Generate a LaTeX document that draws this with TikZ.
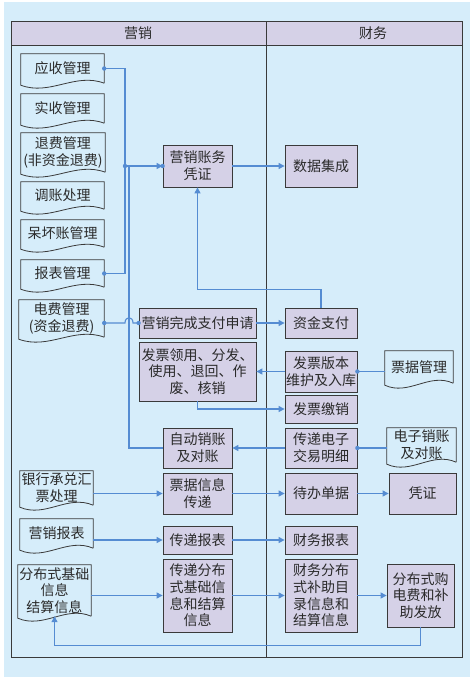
\documentclass[tikz,border=0pt]{standalone}
\usepackage{fontspec}
\usepackage{tikz}
\usetikzlibrary{calc}
\usetikzlibrary{positioning}
\usetikzlibrary{arrows.meta}

\newfontfamily\cjkfont{Noto Sans CJK SC}
\newcommand{\cnfont}{\cjkfont\fontsize{14}{16.7}\selectfont}

\definecolor{pagebg}{HTML}{D6EDFA}
\definecolor{boxlav}{HTML}{D5D1E7}
\definecolor{edgegray}{HTML}{3A3A3A}
\definecolor{linkblue}{HTML}{558CD2}
\definecolor{txtgray}{HTML}{2A2A2A}

\newcommand{\docwave}[1]{%
  \draw[edgegray,line width=0.8pt] (#1.south east) -- (#1.north east) -- (#1.north west)
    -- ($(#1.south west)+(0,2)$)
    .. controls ($(#1.south west)!0.35!(#1.south east)+(0,13)$)
    and ($(#1.south west)!0.65!(#1.south east)+(0,-11)$) .. (#1.south east);}
\newcommand{\linkdot}[1]{\fill[linkblue] (#1) circle (2.2pt);}

\begin{document}
\begin{tikzpicture}[x=1pt,y=-1pt,
  proc/.style={draw=edgegray,fill=boxlav,line width=0.8pt,inner sep=0pt,
    align=center,text=txtgray,font=\cnfont},
  midbox/.style={proc,minimum width=69pt},
  finbox/.style={proc,minimum width=72pt},
  docbox/.style={inner sep=0pt,align=center,text=txtgray,font=\cnfont},
  flow/.style={draw=linkblue,line width=1.1pt},
  flowto/.style={flow,-{Triangle[length=6pt,width=6pt]}}]

      \useasboundingbox (0,0) rectangle (471,680);
      \fill[pagebg] (4,2) rectangle (470,677);

      \fill[boxlav] (11,21) rectangle (462,45);
      \draw[edgegray,line width=0.9pt] (11,21) rectangle (462,657);
      \draw[edgegray,line width=0.9pt] (11,45) -- (462,45);
      \draw[edgegray,line width=0.9pt] (266,21) -- (266,657);
      \node[docbox] (yx) at (138,33) {营销};
      \node[docbox] (cw) at (373,33) {财务};

      \node[docbox,minimum width=83pt,minimum height=29pt] (yingshou) at (62.5,68.5) {应收管理};
      \node[docbox,minimum width=83pt,minimum height=29pt] (shishou) at (62.5,108.5) {实收管理};
      \node[docbox,minimum width=84pt,minimum height=39pt] (tuifei) at (63,152.5) {退费管理\\(非资金退费)};
      \node[docbox,minimum width=83pt,minimum height=27pt] (tiaozhang) at (62.5,195.5) {调账处理};
      \node[docbox,minimum width=83pt,minimum height=27pt] (daihuai) at (62.5,233.5) {呆坏账管理};
      \node[docbox,minimum width=83pt,minimum height=27pt] (baobiao) at (62.5,273.5) {报表管理};
      \node[docbox,minimum width=85pt,minimum height=37pt] (dianfei) at (61.5,318.5) {电费管理\\(资金退费)};
      \node[docbox,minimum width=68pt,minimum height=32pt] (piaoju) at (419,367) {票据管理};
      \node[docbox,minimum width=69pt,minimum height=34pt] (dianzi) at (421.5,445) {电子销账\\及对账};
      \node[docbox,minimum width=73pt,minimum height=34pt] (yinhang) at (56.5,488) {银行承兑汇\\票处理};
      \node[docbox,minimum width=73pt,minimum height=29pt] (yxbaobiao) at (56.5,533.5) {营销报表};
      \node[docbox,minimum width=73pt,minimum height=51pt] (fenbu) at (54.5,590.5) {分布式基础\\信息\\结算信息};
      \foreach \d in {yingshou,shishou,tuifei,tiaozhang,daihuai,baobiao,dianfei,
                      piaoju,dianzi,yinhang,yxbaobiao,fenbu}
        {\docwave{\d}}

      \node[midbox,minimum height=42pt] (zhangwu) at (197.5,166) {营销账务\\凭证};
      \node[finbox,minimum height=42pt] (jicheng) at (321,166) {数据集成};
      \node[proc,minimum width=117pt,minimum height=30pt] (shenqing) at (197.5,323) {营销完成支付申请};
      \node[finbox,minimum height=30pt] (zhifu) at (321,323) {资金支付};
      \node[proc,minimum width=117pt,minimum height=59pt] (lingyong) at (197.5,371.5) {发票领用、分发、\\使用、退回、作\\废、核销};
      \node[finbox,minimum height=41pt] (banben) at (321,371.5) {发票版本\\维护及入库};
      \node[finbox,minimum height=28pt] (jiaoxiao) at (321,409) {发票缴销};
      \node[midbox,minimum height=40pt] (xiaozhang) at (197.5,448) {自动销账\\及对账};
      \node[finbox,minimum height=40pt] (mingxi) at (321,448) {传递电子\\交易明细};
      \node[midbox,minimum height=41pt] (chuandi) at (197.5,493.5) {票据信息\\传递};
      \node[finbox,minimum height=41pt] (daiban) at (321,493.5) {待办单据};
      \node[proc,minimum width=67pt,minimum height=41pt] (pingzheng) at (422.5,493.5) {凭证};
      \node[midbox,minimum height=28pt] (cdbaobiao) at (197.5,540) {传递报表};
      \node[finbox,minimum height=28pt] (cwbaobiao) at (321,540) {财务报表};
      \node[midbox,minimum height=73pt] (cdfenbu) at (197.5,595.5) {传递分布\\式基础信\\息和结算\\信息};
      \node[finbox,minimum height=73pt] (cwfenbu) at (321,595.5) {财务分布\\式补助目\\录信息和\\结算信息};
      \node[proc,minimum width=67pt,minimum height=63pt] (fafang) at (420.5,595.5) {分布式购\\电费和补\\助发放};

      \coordinate (jA) at (125,166);
      \coordinate (jB) at (129,166);
      \draw[flow] (yingshou.east) -| (jA);
      \draw[flow] (baobiao.east) -| (jA);
      \draw[flow] (xiaozhang.west) -| (jB);
      \draw[flowto] (jA) -- (zhangwu.west);
      \draw[flow] (dianfei.east |- shenqing.west) -- ($(jB |- shenqing.west)+(-4,0)$)
        .. controls +(0,-7) and +(0,-7) .. ++(8,0) -- (shenqing.west);
      \draw[flowto] (shenqing.east) -- (zhifu.west);
      \draw[flowto] (zhifu.north) -- ++(0,-18) -| (zhangwu.south);
      \draw[flowto] (zhangwu.east) -- (jicheng.west);
      \draw[flow] (piaoju.west |- banben.east) -- (banben.east);
      \draw[flowto] (banben.west) -- (lingyong.east);
      \draw[flowto] (lingyong.south) |- (jiaoxiao.west);
      \draw[flow] (dianzi.west |- mingxi.east) -- (mingxi.east);
      \draw[flowto] (mingxi.west) -- (xiaozhang.east);
      \draw[flowto] (yinhang.east |- chuandi.west) -- (chuandi.west);
      \draw[flowto] (chuandi.east) -- (daiban.west);
      \draw[flowto] (daiban.east) -- (pingzheng.west);
      \draw[flowto] (yxbaobiao.east |- cdbaobiao.west) -- (cdbaobiao.west);
      \draw[flowto] (cdbaobiao.east) -- (cwbaobiao.west);
      \draw[flowto] (fenbu.east |- cdfenbu.west) -- (cdfenbu.west);
      \draw[flowto] (cdfenbu.east) -- (cwfenbu.west);
      \draw[flowto] (cwfenbu.east) -- (fafang.west);
      \draw[flowto] (fafang.south) -- ++(0,18) -| (fenbu.south);

      \linkdot{yingshou.east}
      \linkdot{baobiao.east}
      \linkdot{jA}
      \linkdot{zhangwu.west}
      \linkdot{dianfei.east |- shenqing.west}
      \linkdot{shenqing.west}
      \linkdot{banben.east}
      \linkdot{mingxi.east}
    \end{tikzpicture}
\end{document}
